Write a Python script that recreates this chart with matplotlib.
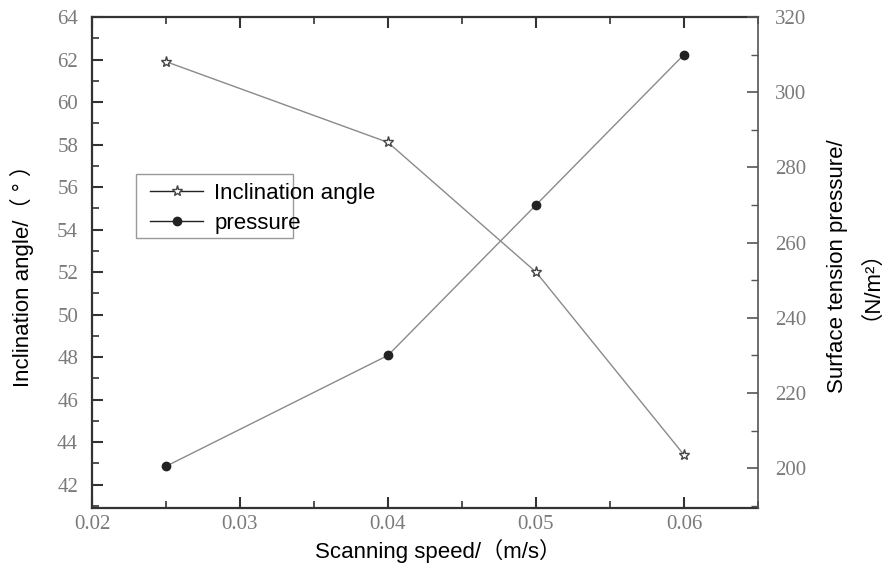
import matplotlib
matplotlib.use("Agg")
import matplotlib.pyplot as plt
from matplotlib.patches import Rectangle
from matplotlib.ticker import MultipleLocator, FormatStrFormatter

speed = [0.025, 0.04, 0.05, 0.06]
angle = [61.9, 58.1, 52.0, 43.4]
pressure = [200.5, 230.0, 270.0, 310.0]

SANS = ["Liberation Sans", "Noto Sans CJK SC"]
SERIF = "Liberation Serif"
TICK_GREY = "#7a7a7a"
SPINE = "#333333"
LABEL_SIZE = 16

fig = plt.figure(figsize=(8.83, 5.76), dpi=100)
ax = fig.add_axes([92 / 883, 1 - 508 / 576, (758 - 92) / 883, (508 - 17) / 576])
ax2 = ax.twinx()

ax.plot(speed, angle, color="#8a8a8a", lw=1.0, marker="*", ms=8,
        mfc="#ffffff", mec="#444444", mew=1.0, label="Inclination angle")
ax2.plot(speed, pressure, color="#8a8a8a", lw=1.0, marker="o", ms=6,
         mfc="#222222", mec="#222222", label="pressure")

ax.set_xlim(0.02, 0.065)
ax.set_ylim(40.9, 64)
ax2.set_ylim(189.4, 320)

ax.xaxis.set_major_locator(MultipleLocator(0.01))
ax.xaxis.set_minor_locator(MultipleLocator(0.005))
ax.yaxis.set_major_locator(MultipleLocator(2))
ax.yaxis.set_minor_locator(MultipleLocator(1))
ax2.yaxis.set_major_locator(MultipleLocator(20))
ax2.yaxis.set_minor_locator(MultipleLocator(10))
ax.xaxis.set_major_formatter(FormatStrFormatter("%.2f"))

ax.tick_params(axis="x", which="both", direction="in", top=True, colors=SPINE,
               labelcolor=TICK_GREY, labelsize=15, pad=5)
ax.tick_params(axis="y", which="both", direction="in", right=False, colors=SPINE,
               labelcolor=TICK_GREY, labelsize=15, pad=10)
ax.tick_params(which="major", length=8, width=1.5)
ax.tick_params(which="minor", length=5, width=1.2)
ax2.tick_params(axis="y", which="both", direction="in", colors="#555555",
                labelcolor=TICK_GREY, labelsize=15, pad=12)
ax2.tick_params(which="major", length=8, width=1.2)
ax2.tick_params(which="minor", length=5, width=1.0)
for lab in ax.get_xticklabels() + ax.get_yticklabels() + ax2.get_yticklabels():
    lab.set_family(SERIF)

for side in ["left", "bottom", "top"]:
    ax.spines[side].set_linewidth(1.6)
    ax.spines[side].set_color(SPINE)
ax.spines["right"].set_visible(False)
ax2.spines["right"].set_linewidth(1.2)
ax2.spines["right"].set_color("#555555")
for side in ["left", "bottom", "top"]:
    ax2.spines[side].set_visible(False)

fig.text(22 / 883, 1 - 270 / 576, "Inclination angle/（ ° ）", rotation=90,
         ha="center", va="center", fontsize=LABEL_SIZE, family=SANS)
fig.text(837 / 883, 1 - 266 / 576, "Surface tension pressure/", rotation=90,
         ha="center", va="center", fontsize=LABEL_SIZE, family=SANS)
fig.text(860 / 883, 1 - 274 / 576, "（N/m²）", rotation=90,
         ha="center", va="center", fontsize=LABEL_SIZE, family=SANS)
fig.text(438 / 883, 1 - 551 / 576, "Scanning speed/（m/s）",
         ha="center", va="center", fontsize=LABEL_SIZE, family=SANS)

fig.add_artist(Rectangle((136 / 883, 1 - 238 / 576), (293 - 136) / 883, (238 - 174) / 576,
                         transform=fig.transFigure, fill=False, ec="#999999", lw=1.0))
h1, l1 = ax.get_legend_handles_labels()
h2, l2 = ax2.get_legend_handles_labels()
leg = fig.legend(h1 + h2, l1 + l2, loc="upper left",
                 bbox_to_anchor=(150 / 883, 1 - 183 / 576), frameon=False,
                 prop={"family": SANS, "size": LABEL_SIZE}, handlelength=2.4,
                 handletextpad=0.5, labelspacing=0.4, borderaxespad=0,
                 borderpad=0)
for h in leg.legend_handles:
    h.set_color("#222222")

fig.savefig("out.png", dpi=100)
